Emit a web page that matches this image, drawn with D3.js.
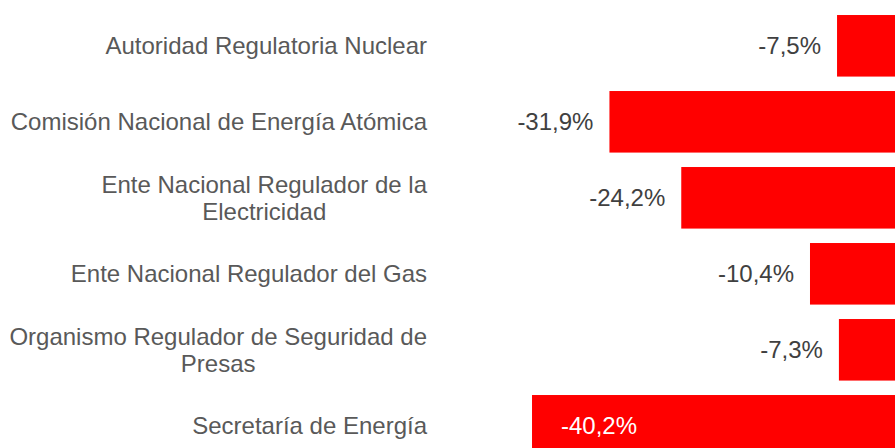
<!DOCTYPE html>
<html>
<head>
<meta charset="utf-8">
<script src="https://cdn.jsdelivr.net/npm/d3@7"></script>
<style>
html, body { margin: 0; padding: 0; background: #ffffff; overflow: hidden; }
svg { display: block; }
</style>
</head>
<body>
<svg id="chart" width="895" height="448"></svg>
<script>
const categories = [
  ["Autoridad Regulatoria Nuclear"],
  ["Comisión Nacional de Energía Atómica"],
  ["Ente Nacional Regulador de la", "Electricidad"],
  ["Ente Nacional Regulador del Gas"],
  ["Organismo Regulador de Seguridad de", "Presas"],
  ["Secretaría de Energía"]
];
const values = [-7.5, -31.9, -24.2, -10.4, -7.3, -40.2];
const valueLabels = ["-7,5%", "-31,9%", "-24,2%", "-10,4%", "-7,3%", "-40,2%"];
const insideLabel = [false, false, false, false, false, true];

const svg = d3.select("#chart");
const font = "'Liberation Sans', Arial, sans-serif";
const fontSize = 24;

const keys = categories.map(c => c.join(" "));
const y = d3.scaleBand().domain(keys).range([7.8, 463.8]).paddingInner(0.19).paddingOuter(0.095);
const x = d3.scaleLinear().domain([-50, 0]).range([440.6, 907]);

const data = keys.map((k, i) => ({ key: k, lines: categories[i], v: values[i], label: valueLabels[i], inside: insideLabel[i] }));

svg.selectAll("rect.bar").data(data).enter().append("rect")
  .attr("class", "bar")
  .attr("x", d => x(d.v))
  .attr("y", d => y(d.key))
  .attr("width", d => x(0) - x(d.v))
  .attr("height", y.bandwidth())
  .attr("fill", "#ff0000");

// category labels: block right-aligned at 427, lines centered within block
const lineH = 27;
const catG = svg.append("g");
data.forEach(d => {
  const cy = y(d.key) + y.bandwidth() / 2;
  const g = catG.append("g");
  const n = d.lines.length;
  const texts = d.lines.map((ln, j) => g.append("text")
    .attr("font-family", font)
    .attr("font-size", fontSize)
    .attr("fill", "#595959")
    .attr("text-anchor", "middle")
    .attr("y", cy + (j - (n - 1) / 2) * lineH + 8.6)
    .text(ln));
  const widths = texts.map(t => t.node().getComputedTextLength());
  const maxW = d3.max(widths);
  const centerX = 427 - maxW / 2;
  texts.forEach(t => t.attr("x", centerX));
});

// value labels
svg.selectAll("text.val").data(data).enter().append("text")
  .attr("class", "val")
  .attr("font-family", font)
  .attr("font-size", fontSize)
  .attr("fill", d => d.inside ? "#ffffff" : "#404040")
  .attr("text-anchor", d => d.inside ? "start" : "end")
  .attr("x", d => d.inside ? x(d.v) + 29 : x(d.v) - 16)
  .attr("y", d => y(d.key) + y.bandwidth() / 2 + 8.6)
  .text(d => d.label);
</script>
</body>
</html>
